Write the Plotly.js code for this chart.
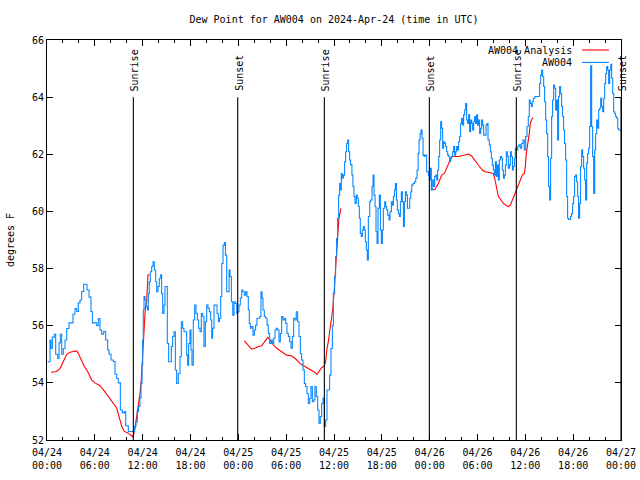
<!DOCTYPE html>
<html>
<head>
<meta charset="utf-8">
<script src="https://cdn.plot.ly/plotly-3.0.1.min.js"></script>
<style>html,body{margin:0;padding:0;background:#fff;}#chart{width:640px;height:480px;}</style>
</head>
<body>
<div id="chart"></div>
<script>
// ---- data (hours after 2024-04-24 00:00 UTC, dew point in degrees F) ----
const chartTitle = 'Dew Point for AW004 on 2024-Apr-24 (time in UTC)';
const seriesNames = ['AW004 Analysis', 'AW004'];

const analysisHours = [0.5,1.17,1.63,2.05,2.47,2.89,3.3,3.72,3.93,4.35,4.68,5.1,5.6,6.02,6.65,7.07,7.69,8.32,8.74,9.03,9.37,9.7,10.2,10.7,10.91,11.07,11.24,11.49,11.66,11.83,12.0,12.17,12.33,12.5,12.67,12.83,
  18,
  24.75,25.17,25.67,26.09,26.51,26.93,27.35,27.68,27.97,28.39,28.81,29.23,29.64,30.06,30.69,31.11,31.53,31.86,32.36,32.78,33.2,33.62,33.87,34.12,34.45,34.79,34.95,35.12,35.29,35.45,35.71,35.83,36.0,36.12,36.25,36.37,36.5,36.62,36.75,36.87,
  42,
  48.16,48.66,49.09,49.5,49.84,50.13,50.34,50.55,50.76,51.18,51.6,52.01,52.43,52.85,53.27,53.6,53.89,54.19,54.61,54.94,55.45,55.99,56.2,56.41,56.62,56.95,57.25,57.54,57.87,58.12,58.38,58.71,59.04,59.37,59.62,59.87,60.0,60.12,60.25,60.37,60.5,60.62,60.75,60.87,61.0];
const analysisDew = [54.37,54.4,54.5,54.75,55.0,55.07,55.1,55.12,55.03,54.75,54.57,54.4,54.1,54.0,53.9,53.76,53.52,53.27,53.12,52.83,52.48,52.3,52.24,52.12,52.23,52.47,52.82,53.17,53.63,54.1,55.15,55.85,56.61,56.84,57.78,57.78,
  null,
  55.47,55.35,55.18,55.21,55.27,55.3,55.44,55.59,55.5,55.33,55.21,55.12,55.03,54.97,54.94,54.86,54.74,54.65,54.57,54.51,54.43,54.36,54.3,54.39,54.53,54.59,54.74,55.21,55.44,55.79,56.32,56.55,57.13,57.72,58.42,58.88,59.29,59.76,60.05,60.11,
  null,
  60.77,60.77,60.98,61.27,61.33,61.51,61.62,61.8,61.92,61.92,61.92,61.95,61.97,62.01,61.94,61.8,61.71,61.59,61.45,61.39,61.36,61.33,61.1,60.75,60.52,60.4,60.28,60.22,60.17,60.22,60.4,60.63,60.87,61.1,61.27,61.33,61.57,62.03,62.27,62.38,62.73,63.08,63.2,63.26,63.28];

const stationHours = [0.08,0.38,0.5,0.67,0.92,1.09,1.34,1.51,1.67,1.84,2.05,2.26,2.47,2.76,3.01,3.26,3.51,3.72,3.93,4.14,4.35,4.6,4.85,5.02,5.27,5.52,5.69,5.94,6.23,6.44,6.65,6.86,7.11,7.36,7.61,7.78,8.03,8.32,8.53,8.74,8.95,9.2,9.45,9.7,9.87,10.2,10.54,10.83,10.99,
  11.16,11.33,11.49,11.66,11.79,11.92,12.0,12.08,12.17,12.29,12.42,12.58,12.71,12.83,12.96,13.13,13.3,13.46,13.63,13.76,13.92,14.09,14.26,14.38,14.51,14.68,14.8,15.01,15.09,15.26,15.43,15.59,15.76,15.93,16.1,16.26,16.47,16.68,16.85,17.01,17.18,17.35,17.52,17.64,17.77,17.93,18.06,18.18,18.35,18.52,18.69,18.86,19.02,19.19,19.36,19.52,19.69,19.86,20.03,20.2,20.36,20.53,20.66,20.78,20.95,21.16,21.33,21.5,21.62,21.79,21.92,22.08,22.25,22.38,22.54,22.71,22.84,22.96,23.13,23.3,23.46,23.63,23.8,
  23.92,24.08,24.25,24.42,24.58,24.75,24.92,25.09,25.25,25.38,25.51,25.67,25.84,26.01,26.17,26.34,26.51,26.68,26.84,26.97,27.09,27.26,27.43,27.6,27.76,27.93,28.1,28.26,28.43,28.6,28.76,28.93,29.1,29.27,29.43,29.6,29.77,29.94,30.1,30.27,30.44,30.61,30.77,30.94,31.11,31.27,31.44,31.61,31.78,31.94,32.11,32.28,32.44,32.61,32.78,32.95,33.11,33.28,33.45,33.61,33.78,33.95,34.12,34.28,34.45,34.62,34.79,34.95,35.12,35.29,35.45,35.62,35.8,
  35.92,36.08,36.2,36.33,36.45,36.58,36.71,36.79,36.92,37.04,37.17,37.33,37.46,37.58,37.71,37.83,37.96,38.08,38.25,38.37,38.5,38.63,38.8,38.92,39.05,39.18,39.3,39.43,39.55,39.68,39.81,39.93,40.06,40.18,40.31,40.48,40.6,40.77,40.9,41.02,41.15,41.27,41.4,41.52,41.69,41.82,41.94,42.07,42.19,42.36,42.49,42.61,42.74,42.91,43.03,43.2,43.33,43.45,43.58,43.7,43.83,43.95,44.08,44.2,44.33,44.45,44.58,44.71,44.83,44.96,45.08,45.21,45.37,45.5,45.63,45.75,45.92,46.09,46.25,46.42,46.55,46.67,46.8,46.92,47.05,47.17,47.3,
  47.42,47.62,47.83,47.96,48.08,48.21,48.33,48.5,48.63,48.75,48.88,49.0,49.13,49.25,49.38,49.5,49.63,49.75,49.88,50.0,50.13,50.26,50.38,50.51,50.63,50.76,50.88,51.01,51.13,51.26,51.38,51.51,51.63,51.76,51.88,52.01,52.14,52.26,52.39,52.51,52.64,52.76,52.89,53.01,53.14,53.27,53.39,53.52,53.64,53.77,53.89,54.02,54.15,54.27,54.4,54.52,54.65,54.77,54.94,55.07,55.2,55.32,55.49,55.61,55.74,55.86,55.99,56.12,56.24,56.37,56.49,56.62,56.74,56.87,57.0,57.12,57.25,57.37,57.5,57.62,57.75,57.87,58.0,58.12,58.25,58.38,58.5,58.63,58.75,
  58.87,59.04,59.2,59.37,59.54,59.7,59.87,60.04,60.21,60.37,60.5,60.62,60.75,60.87,61.0,61.21,61.42,61.63,61.79,61.92,62.05,62.17,62.3,62.42,62.55,62.67,62.8,62.92,63.05,63.17,63.3,63.42,63.55,63.67,63.8,63.92,64.05,64.17,64.3,64.42,64.55,64.67,64.8,64.92,65.05,65.18,65.3,65.43,65.55,65.68,65.8,65.93,66.05,66.18,66.31,66.43,66.56,66.68,66.81,66.93,67.06,67.19,67.31,67.44,67.56,67.69,67.81,67.94,68.07,68.19,68.32,68.44,68.57,68.7,68.82,68.95,69.07,69.2,69.32,69.45,69.57,69.7,69.83,69.95,70.08,70.2,70.33,70.45,70.58,70.71,70.83,70.96,71.08,71.21,71.33,71.46,71.59,71.71,71.84,72.0];
const stationDew = [54.74,55.5,55.2,55.6,55.7,55.0,54.85,55.4,55.7,55.0,55.2,55.5,55.9,56.1,56.1,56.4,56.6,56.5,56.8,56.9,57.2,57.45,57.45,57.25,57.0,56.5,56.1,56.1,56.0,56.25,55.85,55.7,55.8,55.5,55.15,55.0,54.8,54.75,54.3,54.15,54.0,53.05,52.95,53.0,52.5,52.3,52.3,52.3,52.47,
  52.64,52.99,53.17,53.46,53.98,54.62,55.5,56.55,57.02,56.9,56.67,56.55,57.13,57.54,57.89,58.07,58.24,57.95,57.54,57.19,57.37,57.66,57.78,57.13,56.43,56.72,57.37,57.37,55.38,54.74,54.74,55.27,55.62,55.79,54.45,53.98,54.33,54.92,56.14,55.91,55.79,55.79,54.97,54.62,55.38,55.85,55.15,54.62,56.2,56.72,56.43,56.2,55.91,55.79,56.43,56.32,55.27,56.14,56.72,56.61,56.49,56.2,55.56,55.91,56.72,56.72,56.43,56.14,56.26,57.02,58.18,58.82,58.91,58.47,57.19,57.19,57.95,57.72,56.84,56.37,56.84,56.78,56.43,
  56.49,56.72,56.96,57.25,57.19,57.07,57.19,57.02,56.55,56.08,55.91,55.97,55.67,55.85,56.02,56.26,56.26,56.32,57.19,56.96,56.55,56.32,56.26,56.02,55.73,55.38,55.5,55.38,55.56,55.85,55.91,55.85,55.44,55.73,56.32,56.2,56.26,56.08,55.73,55.62,55.44,55.21,55.62,56.26,56.2,56.49,56.14,55.62,55.03,54.8,54.45,53.98,53.87,53.63,53.28,53.46,53.87,53.34,53.4,53.87,53.52,53.05,52.58,52.82,53.28,53.46,52.47,52.7,53.75,53.75,54.27,55.2,56.0,
  57.13,57.72,58.42,59.06,59.76,60.57,60.98,60.75,61.33,61.16,61.27,61.74,62.09,62.38,62.5,62.09,61.8,61.63,61.27,60.87,60.52,60.28,60.57,60.46,60.17,59.76,59.23,59.12,59.35,59.47,59.35,58.94,58.65,58.3,59.82,60.34,60.4,60.87,61.27,60.57,60.17,59.29,58.88,60.11,60.57,59.35,58.88,59.35,60.11,60.34,60.17,60.05,59.87,59.7,59.99,60.34,60.22,60.52,60.75,60.98,60.4,60.05,59.93,59.82,60.34,60.69,60.34,59.47,60.34,60.69,60.57,60.11,60.11,60.46,60.69,60.92,60.98,61.04,61.16,61.45,62.03,62.5,62.73,62.85,62.56,61.97,61.92,
  61.97,61.39,61.27,61.1,61.51,60.75,61.1,60.87,61.22,61.27,61.1,61.45,61.92,62.5,63.14,62.91,62.21,62.44,62.38,62.27,62.09,61.97,61.92,61.74,61.86,61.92,62.09,62.27,61.97,62.09,62.27,62.15,62.44,62.62,63.08,63.26,63.02,63.38,63.55,63.78,63.2,63.08,63.38,62.79,63.2,63.08,62.85,63.14,63.32,63.08,63.38,63.02,63.2,62.73,62.91,63.2,63.02,62.67,62.67,63.02,63.08,62.5,62.33,62.09,61.86,61.62,61.45,61.27,61.74,61.22,61.62,61.1,61.8,61.92,61.86,61.45,61.16,61.27,61.62,62.09,61.92,61.51,61.62,62.09,61.92,61.45,61.57,61.86,62.21,
  62.15,62.27,62.33,62.21,62.38,62.5,62.15,62.62,62.97,63.32,63.9,63.78,63.67,63.84,63.96,64.02,64.02,64.02,64.48,64.78,64.95,64.72,64.37,63.84,63.2,62.73,61.92,60.87,60.4,61.86,63.32,63.9,64.42,64.31,63.55,63.9,62.5,64.02,64.37,64.13,63.67,63.32,62.85,62.38,61.8,60.52,59.76,59.72,59.72,59.82,59.93,60.28,60.52,61.22,61.27,61.04,60.52,59.76,60.28,61.57,62.15,61.92,61.51,61.1,60.4,61.69,62.03,62.21,62.97,65.1,62.97,61.92,60.63,62.15,62.73,63.2,62.91,63.55,63.61,63.96,63.67,63.49,63.96,64.48,64.83,65.07,64.95,64.48,64.95,65.15,64.66,64.13,63.49,63.43,63.32,63.26,62.91,62.85,62.85,62.85];

const sunEventHours = [10.83, 23.92, 34.79, 47.96, 58.87, 72.0];
const sunEventLabels = ['Sunrise', 'Sunset', 'Sunrise', 'Sunset', 'Sunrise', 'Sunset'];
const sunLineTop = 64;

const yTickValues = [52, 54, 56, 58, 60, 62, 64, 66];

// ---- helpers ----
const startMs = Date.UTC(2024, 3, 24, 0, 0, 0);
function toDate(h) {
  const d = new Date(startMs + Math.round(h * 3600000));
  return d.toISOString().slice(0, 19).replace('T', ' ');
}

const redColor = '#ff0000';
const blueColor = '#0a88ff';
const FONT = 'DejaVu Sans Mono';

const traces = [
  {
    x: analysisHours.map(toDate), y: analysisDew, name: seriesNames[0],
    type: 'scatter', mode: 'lines', connectgaps: false,
    line: {color: redColor, width: 1.1}, showlegend: false
  },
  {
    x: stationHours.map(toDate), y: stationDew, name: seriesNames[1],
    type: 'scatter', mode: 'lines', line: {color: blueColor, width: 1.1, shape: 'hv'},
    showlegend: false
  }
];

const shapes = sunEventHours.map(h => ({
  type: 'line', xref: 'x', yref: 'y', x0: toDate(h), x1: toDate(h), y0: 52, y1: sunLineTop,
  line: {color: '#000', width: 1.1}
}));

const annotations = sunEventHours.map((h, i) => ({
  x: toDate(h), y: sunLineTop, xref: 'x', yref: 'y', text: sunEventLabels[i],
  textangle: -90, showarrow: false, xanchor: 'center', yanchor: 'bottom', yshift: 4, xshift: 1,
  font: {family: FONT, size: 10, color: '#000'}
}));

// gnuplot-style key: text right-aligned, sample line on the right
const legendColors = [redColor, blueColor];
const legendY = [0.975, 0.944];
seriesNames.forEach((name, i) => {
  annotations.push({
    x: 0.918, y: legendY[i], xref: 'paper', yref: 'paper', text: name, showarrow: false,
    xanchor: 'right', yanchor: 'middle', font: {family: FONT, size: 10, color: '#000'}
  });
  shapes.push({
    type: 'line', xref: 'paper', yref: 'paper', x0: 0.932, x1: 0.979, y0: legendY[i], y1: legendY[i],
    line: {color: legendColors[i], width: 1.1}
  });
});

const layout = {
  width: 640, height: 480,
  margin: {l: 47, r: 19, t: 40, b: 40, pad: 0},
  paper_bgcolor: '#fff', plot_bgcolor: '#fff',
  font: {family: FONT, size: 10, color: '#000'},
  title: {text: chartTitle, x: 0.5, xref: 'paper', y: 0.96, yref: 'container', yanchor: 'middle',
    font: {family: FONT, size: 10, color: '#000'}},
  xaxis: {
    type: 'date', range: [toDate(0), toDate(72)], tick0: toDate(0), dtick: 21600000,
    tickformat: '%m/%d<br>%H:%M', ticks: 'inside', ticklen: 6, tickcolor: '#000', tickwidth: 1,
    ticklabelstandoff: 3,
    showline: true, linecolor: '#000', linewidth: 1, mirror: 'allticks',
    showgrid: false, zeroline: false,
    minor: {dtick: 7200000, ticks: 'inside', ticklen: 3, tickcolor: '#000', tickwidth: 1, showgrid: false},
    tickfont: {family: FONT, size: 10, color: '#000'}
  },
  yaxis: {
    range: [52, 66], tickvals: yTickValues, ticks: 'inside', ticklen: 6, tickcolor: '#000', tickwidth: 1,
    showline: true, linecolor: '#000', linewidth: 1, mirror: 'allticks',
    showgrid: false, zeroline: false,
    tickfont: {family: FONT, size: 10, color: '#000'},
    title: {text: 'degrees F', standoff: 15, font: {family: FONT, size: 10, color: '#000'}}
  },
  shapes: shapes,
  annotations: annotations
};

Plotly.newPlot('chart', traces, layout, {staticPlot: true, displayModeBar: false});
</script>
</body>
</html>
